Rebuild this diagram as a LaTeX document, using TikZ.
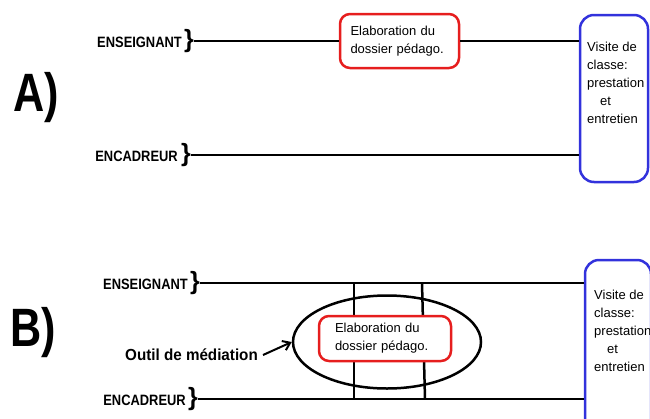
\documentclass[tikz,border=0pt]{standalone}
\usepackage{fontspec}
\setmainfont{Liberation Sans}
\newfontfamily\condfont[FakeStretch=0.86]{Liberation Sans}
\newfontfamily\outilfont[FakeStretch=0.95]{Liberation Sans}
\newfontfamily\bigfont[FakeStretch=0.8]{Liberation Sans}
\usetikzlibrary{arrows.meta,shapes.geometric}
\definecolor{boxred}{RGB}{230,30,30}
\definecolor{boxblue}{RGB}{50,50,220}
\begin{document}
\begin{tikzpicture}[x=1pt,y=-1pt,
  line/.style={line width=2.5pt},
  biglbl/.style={font=\bigfont\bfseries\fontsize{54}{54}\selectfont, inner sep=0pt},
  lbl/.style={font=\condfont\bfseries\fontsize{15}{18}\selectfont, inner sep=0pt, anchor=east},
  bracegl/.style={font=\bfseries\fontsize{25}{25}\selectfont, inner sep=0pt, anchor=west},
  redbox/.style={draw=boxred, line width=2.5pt, rounded corners=10pt, fill=white,
    font=\fontsize{13}{18}\selectfont, align=left, inner sep=0pt},
  bluebox/.style={draw=boxblue, line width=2.5pt, rounded corners=14pt, inner sep=0pt},
  boxtext/.style={font=\fontsize{13}{18}\selectfont, align=left, inner sep=0pt, anchor=north west},
]
\clip (0,0) rectangle (650,418);
% ---------------- Panel A ----------------
\node[biglbl] (labA) at (36,98) {A)};
\node[lbl] (ensA) at (182,42) {ENSEIGNANT};
\node[bracegl] (brA1) at (184,41) {\}};
\node[lbl] (encA) at (178,156) {ENCADREUR};
\node[bracegl] (brA2) at (181,155) {\}};
\node[bluebox, minimum width=68, minimum height=167] (visA) at (614,98.5) {};
\node[boxtext] (visAt) at (587,42) {Visite de\\classe:\\prestation\\\hspace*{13pt}et\\entretien};
\node[redbox, minimum width=119, minimum height=54, text width=98] (elabA) at (399.5,41) {Elaboration du\\dossier pédago.};
\draw[line] (brA1.east) -- (elabA.west);
\draw[line] (elabA.east) -- (elabA.east -| visA.west);
\draw[line] (brA2.east) -- (brA2.east -| visA.west);
% ---------------- Panel B ----------------
\node[biglbl] (labB) at (33,333) {B)};
\node[lbl] (ensB) at (188,284) {ENSEIGNANT};
\node[bracegl] (brB1) at (190,283) {\}};
\node[lbl] (encB) at (186,400) {ENCADREUR};
\node[bracegl] (brB2) at (188,399) {\}};
\node[bluebox, minimum width=66, minimum height=190] (visB) at (618,355) {};
\node[boxtext] (visBt) at (594,290) {Visite de\\classe:\\prestation\\\hspace*{13pt}et\\entretien};
\draw[line] (brB1.east) -- (brB1.east -| visB.west);
\draw[line] (brB2.east) -- (brB2.east -| visB.west);
\node[draw, ellipse, line width=2.5pt, minimum width=188, minimum height=93, inner sep=0pt] (ell) at (387,342) {};
\coordinate (v1t) at (354,283);
\coordinate (v1b) at (354,399);
\coordinate (v2t) at (422,283);
\coordinate (v2b) at (425,399);
\draw[line] (v1t) -- (v1b);
\draw[line] (v2t) -- (v2b);
\node[redbox, minimum width=132, minimum height=45, text width=100] (elabB) at (385,338.5) {Elaboration du\\dossier pédago.};
\node[font=\outilfont\bfseries\fontsize{16}{18}\selectfont, inner sep=0pt, anchor=east] (outil) at (258,355) {Outil de médiation};
\draw[line width=2pt, -{Straight Barb[length=7pt,width=10pt]}] (outil.east) ++(5,0) coordinate (arrs) -- (ell.west);
\end{tikzpicture}
\end{document}
